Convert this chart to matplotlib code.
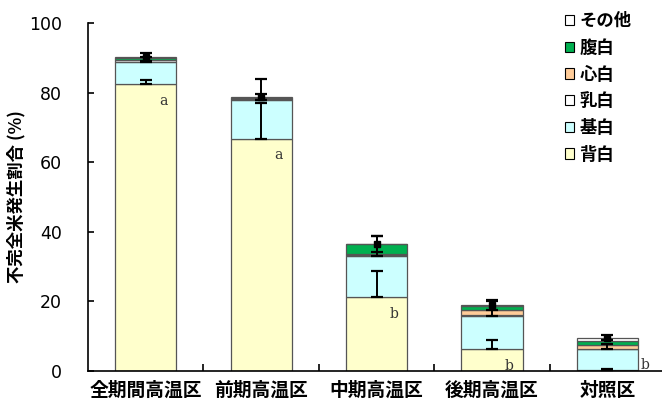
import numpy as np
import matplotlib.pyplot as plt

plt.rcParams['font.family'] = ['Noto Sans CJK JP', 'DejaVu Sans']

groups = ["全期間高温区", "前期高温区", "中期高温区", "後期高温区", "対照区"]
layer_names = ["背白", "基白", "乳白", "心白", "腹白", "その他"]
layer_colors = ["#FFFFCC", "#CCFFFF", "#FFFFFF", "#FFCC99", "#00B050", "#FFFFFF"]

back = [82.4, 66.8, 21.2, 6.2, 0.2]      # 背白
base = [6.4, 11.1, 11.8, 9.7, 6.0]       # 基白
milky = [0.5, 0.3, 0.2, 0.1, 0.1]        # 乳白
core = [0.2, 0.1, 0.3, 1.5, 1.1]         # 心白
belly = [0.3, 0.2, 2.9, 1.3, 1.3]        # 腹白
other = [0.4, 0.3, 0.1, 0.2, 0.8]        # その他

err_back = [1.2, 10.3, 7.6, 2.7, 0.3]    # upward, on 背白
err_base = [1.5, 6.0, 5.8, 4.3, 1.5]     # upward, on 背白+基白
err_total = [1.2, 0.8, 2.3, 1.4, 0.7]    # on total
letters = ["a", "a", "b", "b", "b"]

layers = [back, base, milky, core, belly, other]

fig = plt.figure(figsize=(6.62, 4.07), dpi=100)
ax = fig.add_axes([0.133, 0.0885, 0.8716, 0.855])

x = np.arange(len(groups))
w = 0.53
bottom = np.zeros(len(groups))
handles = []
for vals, name, col in zip(layers, layer_names, layer_colors):
    b = ax.bar(x, vals, w, bottom=bottom, color=col, edgecolor="#555555",
               linewidth=0.9, label=name, zorder=2)
    handles.append(b)
    bottom = bottom + np.array(vals)
total = bottom

cum_back = np.array(back)
cum_base = cum_back + np.array(base)

ekw = dict(fmt="none", ecolor="black", elinewidth=1.4, capsize=4, capthick=1.6, zorder=4)
ax.errorbar(x, cum_back, yerr=[np.zeros(5), err_back], **ekw)
ax.errorbar(x, cum_base, yerr=[np.zeros(5), err_base], **ekw)
ax.errorbar(x, total, yerr=err_total, **ekw)
ax.plot(x, total, "s", color="black", ms=4, zorder=5)

for i, lt in enumerate(letters):
    if back[i] > 3:
        ax.text(x[i] + 0.15, back[i] - 2.8, lt, ha="center", va="top",
                family="DejaVu Serif", fontsize=10, color="#333333", zorder=5)
    else:
        ax.text(x[i] + 0.33, 3.6, lt, ha="center", va="top",
                family="DejaVu Serif", fontsize=10, color="#333333", zorder=5)

ax.set_xlim(-0.5, 4.5)
ax.set_ylim(0, 100)
ax.set_yticks(np.arange(0, 101, 20))
ax.tick_params(axis="y", direction="in", length=4, width=1.2, pad=19, labelsize=12.5)
for t in ax.get_yticklabels():
    t.set_family("DejaVu Sans")
ax.set_xticks(x)
ax.set_xticklabels(groups, fontsize=13.5, fontweight="bold")
ax.tick_params(axis="x", which="major", length=0, pad=7)
ax.set_xticks(x[:-1] + 0.5, minor=True)
ax.tick_params(axis="x", which="minor", direction="in", length=5, width=1.2)

for s in ["top", "right"]:
    ax.spines[s].set_visible(False)
ax.spines["left"].set_linewidth(1.2)
ax.spines["bottom"].set_linewidth(1.2)

ax.set_ylabel("不完全米発生割合 (%)", fontsize=12.5, fontweight="bold", labelpad=2)

leg = ax.legend(handles[::-1], layer_names[::-1], loc="upper left",
                bbox_to_anchor=(0.853, 0.97), bbox_transform=fig.transFigure,
                frameon=False,
                prop={"weight": "bold", "size": 12.5, "family": ["Noto Sans CJK JP"]},
                handlelength=0.55, handleheight=0.55, handletextpad=0.3,
                labelspacing=0.5, borderaxespad=0, borderpad=0)
for h in leg.legend_handles:
    h.set_edgecolor("black")
    h.set_linewidth(0.8)

fig.savefig("out.png", dpi=100)
